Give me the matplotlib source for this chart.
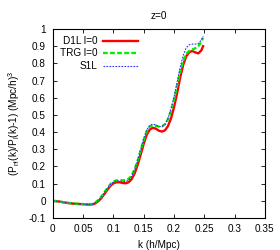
import numpy as np
import matplotlib
matplotlib.use("Agg")
import matplotlib.pyplot as plt

# k grid (h/Mpc)
k = [0.000, 0.005, 0.010, 0.015, 0.020, 0.025, 0.030, 0.035, 0.040, 0.045,
     0.050, 0.055, 0.060, 0.065, 0.070, 0.075, 0.080, 0.085, 0.090, 0.095,
     0.100, 0.105, 0.110, 0.115, 0.120, 0.125, 0.130, 0.135, 0.140, 0.145,
     0.150, 0.155, 0.160, 0.165, 0.170, 0.175, 0.180, 0.185, 0.190, 0.195,
     0.200, 0.205, 0.210, 0.215, 0.220, 0.225, 0.230, 0.235, 0.240, 0.245,
     0.248]

d1l = [0.000, -0.002, -0.004, -0.007, -0.010, -0.013, -0.015, -0.017, -0.018, -0.019,
       -0.020, -0.021, -0.022, -0.021, -0.015, -0.002, 0.016, 0.040, 0.065, 0.087,
       0.102, 0.108, 0.108, 0.104, 0.102, 0.108, 0.126, 0.160, 0.210, 0.270,
       0.333, 0.385, 0.415, 0.425, 0.420, 0.408, 0.403, 0.410, 0.435, 0.480,
       0.545, 0.625, 0.715, 0.790, 0.840, 0.865, 0.872, 0.864, 0.858, 0.875,
       0.900]

trg = [0.000, -0.002, -0.004, -0.007, -0.010, -0.012, -0.014, -0.016, -0.017, -0.018,
       -0.019, -0.020, -0.020, -0.018, -0.010, 0.005, 0.025, 0.050, 0.075, 0.097,
       0.112, 0.119, 0.120, 0.119, 0.120, 0.128, 0.148, 0.185, 0.235, 0.295,
       0.355, 0.405, 0.432, 0.440, 0.437, 0.432, 0.433, 0.445, 0.475, 0.525,
       0.590, 0.670, 0.750, 0.815, 0.855, 0.873, 0.880, 0.888, 0.900, 0.925,
       0.950]

s1l = [0.000, -0.002, -0.004, -0.007, -0.010, -0.012, -0.014, -0.016, -0.017, -0.018,
       -0.019, -0.020, -0.021, -0.020, -0.012, 0.002, 0.022, 0.047, 0.073, 0.095,
       0.110, 0.116, 0.116, 0.112, 0.112, 0.120, 0.142, 0.182, 0.235, 0.300,
       0.362, 0.413, 0.440, 0.447, 0.440, 0.432, 0.432, 0.445, 0.480, 0.535,
       0.605, 0.690, 0.775, 0.845, 0.890, 0.908, 0.912, 0.912, 0.915, 0.935,
       0.958]

xticks = [0, 0.05, 0.1, 0.15, 0.2, 0.25, 0.3, 0.35]
xticklabels = ["0", "0.05", "0.1", "0.15", "0.2", "0.25", "0.3", "0.35"]
yticks = [-0.1, 0, 0.1, 0.2, 0.3, 0.4, 0.5, 0.6, 0.7, 0.8, 0.9, 1.0]
yticklabels = ["-0.1", "0", "0.1", "0.2", "0.3", "0.4", "0.5", "0.6", "0.7", "0.8", "0.9", "1"]

plt.rcParams['font.family'] = ['Liberation Sans', 'DejaVu Sans']
plt.rcParams['mathtext.fontset'] = 'custom'
plt.rcParams['mathtext.rm'] = 'Liberation Sans'
plt.rcParams['mathtext.it'] = 'Liberation Sans'

fs = 7.2

fig = plt.figure(figsize=(2.8, 2.5), dpi=100)
ax = fig.add_axes([0.189, 0.128, 0.757, 0.756])

ax.plot(k, d1l, color='#ff0000', linewidth=1.7, label='D1L l=0')
ax.plot(k, trg, color='#00f000', linewidth=1.7, linestyle=(0, (2, 1)), label='TRG l=0')
ax.plot(k, s1l, color='#3030ff', linewidth=0.8, linestyle=(0, (1.5, 1.2)), label='S1L')

ax.set_xlim(0, 0.35)
ax.set_ylim(-0.1, 1.0)
ax.set_xticks(xticks)
ax.set_xticklabels(xticklabels)
ax.set_yticks(yticks)
ax.set_yticklabels(yticklabels)
ax.tick_params(direction='in', top=True, right=True, length=3, width=0.6,
               labelsize=fs)
ax.tick_params(axis='x', pad=4.5)
ax.tick_params(axis='y', pad=5)
for sp in ax.spines.values():
    sp.set_linewidth(0.8)

ax.set_xlabel('k (h/Mpc)', fontsize=fs, labelpad=4)
ax.set_ylabel(r'(P$_{\rm nl}$(k)/P$_{\rm l}$(k)-1) (Mpc/h)$^3$', fontsize=fs, labelpad=5)
ax.set_title('z=0', fontsize=fs, pad=7)

ax.legend(loc='upper left', bbox_to_anchor=(0.0, 1.0), frameon=False,
          fontsize=fs, markerfirst=False, handlelength=3.5, handletextpad=0.5,
          labelspacing=0.25, borderaxespad=0.3)

fig.savefig('out.png', dpi=100, facecolor='white')
